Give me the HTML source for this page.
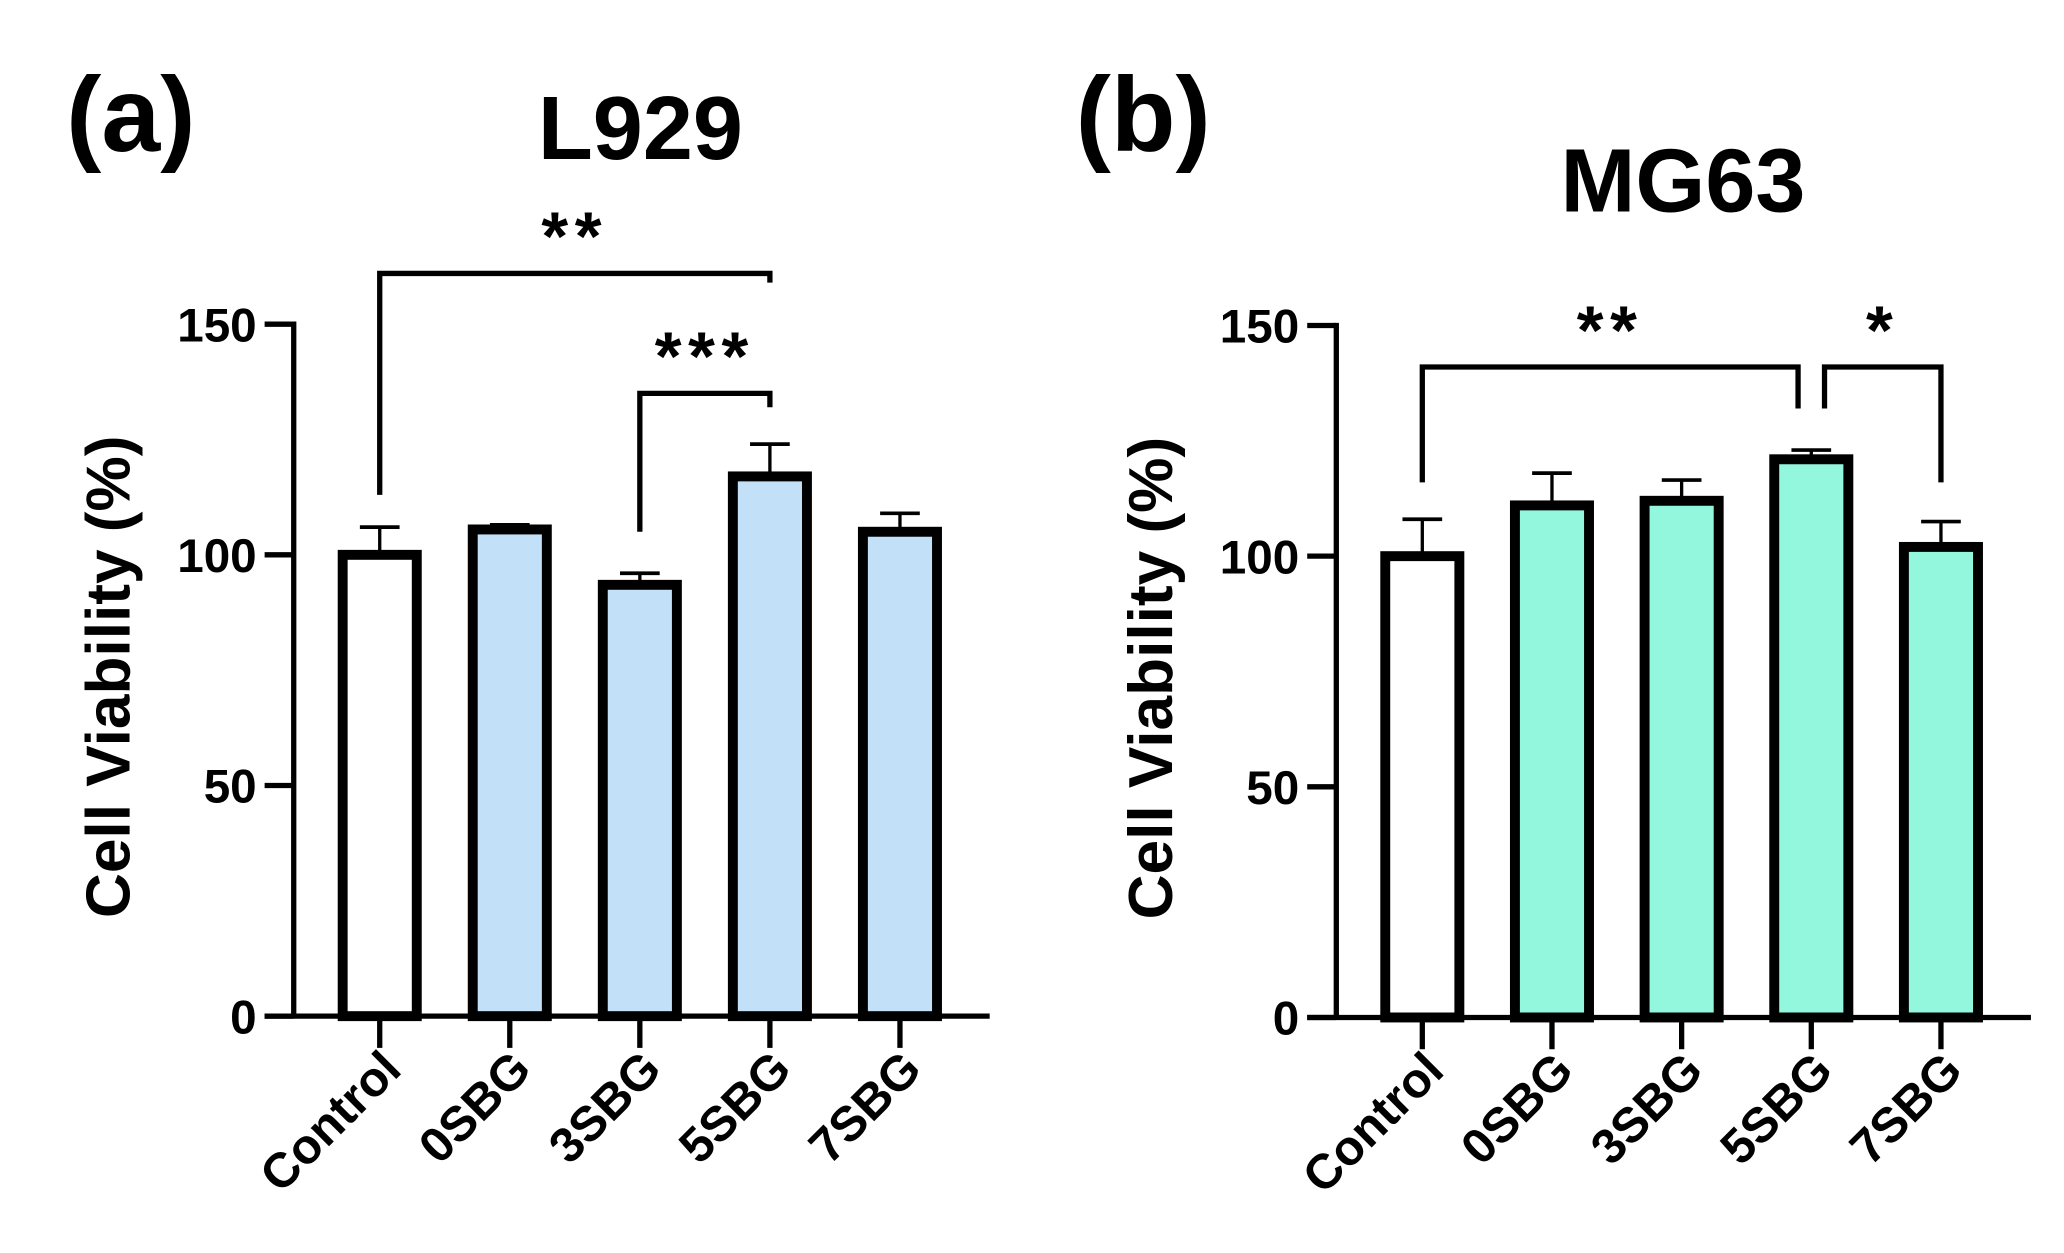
<!DOCTYPE html>
<html><head><meta charset="utf-8">
<style>
html,body{margin:0;padding:0;background:#fff;}
svg{display:block;}
text{font-family:"Liberation Sans",Arial,sans-serif;font-weight:bold;fill:#000;}
</style></head>
<body>
<svg id="fig" width="2064" height="1253" viewBox="0 0 1560 947" xmlns="http://www.w3.org/2000/svg">
<text x="50" y="114" font-size="80">(a)</text>
<text x="813" y="114" font-size="80">(b)</text>
<text x="484" y="120" font-size="68" text-anchor="middle">L929</text>
<text x="1272" y="160" font-size="68" text-anchor="middle">MG63</text>
<g id="pa"></g>
<g id="pb"></g>
</svg>
<script>
const categories = ["Control","0SBG","3SBG","5SBG","7SBG"];
const l929Values = [100, 105.5, 93.5, 117, 105];
const l929Errors = [6, 1, 2.5, 7, 4];
const mg63Values = [100, 111, 112, 121, 102];
const mg63Errors = [8, 7, 4.5, 2, 5.5];
const yTicks = [0, 50, 100, 150];
const l929Sig = [{a:0,b:3,y:161,la:113,lb:159,label:"**"},{a:2,b:3,y:135,la:105,lb:132,label:"***"}];
const mg63Sig = [{a:0,b:3,y:141,la:116,lb:132,label:"**",bOff:-10},{a:3,b:4,y:141,la:132,lb:116,label:"*",aOff:10}];

const NS="http://www.w3.org/2000/svg";
function mk(parent,tag,attrs){const e=document.createElementNS(NS,tag);for(const k in attrs)e.setAttribute(k,attrs[k]);parent.appendChild(e);return e;}

function drawPanel(gid,cfg,values,errors,sig,fill){
  const g=document.getElementById(gid);
  const y=v=>cfg.y0-(v/150)*(cfg.y0-cfg.y150);
  const x=i=>cfg.x0+i*cfg.step;
  const bw=56;
  let e=mk(g,'line',{x1:cfg.ax,y1:y(150)-2,x2:cfg.ax,y2:cfg.y0,stroke:'#000','stroke-width':4});
  
  
  e=mk(g,'line',{x1:cfg.ax-22,y1:cfg.y0,x2:cfg.xEnd,y2:cfg.y0,stroke:'#000','stroke-width':4});
  
  
  yTicks.forEach(t=>{
    const tk=mk(g,'line',{x1:cfg.ax-22,y1:y(t),x2:cfg.ax,y2:y(t),stroke:'#000','stroke-width':4});
    
    
    const tl=mk(g,'text',{x:cfg.ax-28,y:y(t)+13,'font-size':36,'text-anchor':'end'});
    tl.textContent=t;
    
    
  });
  const yt=mk(g,'text',{x:0,y:0,'font-size':47,'text-anchor':'middle',transform:`translate(${cfg.ax-124},${(y(0)+y(150))/2+5}) rotate(-90)`});
  yt.textContent='Cell Viability (%)';
  
  
  values.forEach((v,i)=>{
    const cx=x(i);
    const top=y(v+errors[i]);
    const el=mk(g,'line',{x1:cx,y1:top,x2:cx,y2:y(v),stroke:'#000','stroke-width':2.5});
    
    
    const ec=mk(g,'line',{x1:cx-15,y1:top,x2:cx+15,y2:top,stroke:'#000','stroke-width':2.8});
    
    
    const r=mk(g,'rect',{x:cx-bw/2,y:y(v),width:bw,height:cfg.y0-y(v),fill:i===0?'#fff':fill,stroke:'#000','stroke-width':7.5});
    
    
    const tk=mk(g,'line',{x1:cx,y1:cfg.y0,x2:cx,y2:cfg.y0+24,stroke:'#000','stroke-width':4});
    
    
    const tl=mk(g,'text',{x:0,y:0,'font-size':37,'text-anchor':'end',transform:`translate(${cx+18},${cfg.y0+42}) rotate(-45)`});
    tl.textContent=categories[i];
    
    
  });
  sig.forEach(s=>{
    const xa=x(s.a)+(s.aOff||0), xb=x(s.b)+(s.bOff||0), yy=y(s.y);
    const p=mk(g,'path',{d:`M${xa},${y(s.la)} V${yy} H${xb} V${y(s.lb)}`,fill:'none',stroke:'#000','stroke-width':4});
    
    
    const t=mk(g,'text',{x:(xa+xb)/2,y:yy-10,'font-size':52,'text-anchor':'middle','letter-spacing':'5'});
    t.textContent=s.label;
    
    
  });
}
drawPanel('pa',{ax:222,x0:287,step:98.3,y0:768,y150:245,xEnd:748},l929Values,l929Errors,l929Sig,'#c2e0f8');
drawPanel('pb',{ax:1010,x0:1075,step:98.0,y0:769,y150:246,xEnd:1535},mg63Values,mg63Errors,mg63Sig,'#93f7de');
</script>
</body></html>
